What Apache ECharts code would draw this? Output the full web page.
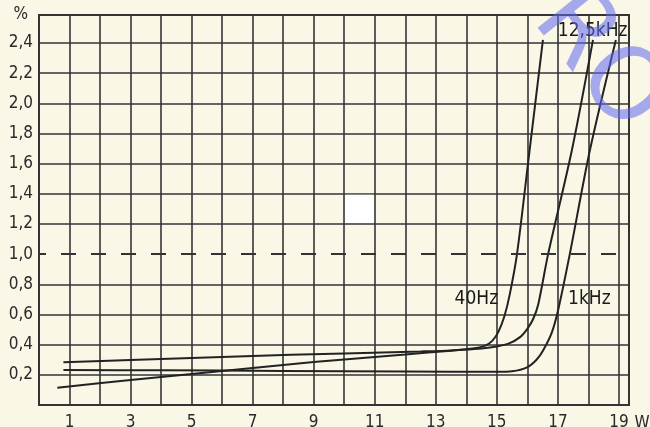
<!DOCTYPE html>
<html><head><meta charset="utf-8">
<script src="https://cdn.jsdelivr.net/npm/echarts@6/dist/echarts.min.js"></script>
<style>html,body{margin:0;padding:0;background:#faf7e6}#c{width:650px;height:427px}</style>
</head><body><div id="c"></div>
<script>
// Power (W) vs distortion (%)
const xLabelValues = [1, 3, 5, 7, 9, 11, 13, 15, 17, 19];
const yLabelValues = [0.2, 0.4, 0.6, 0.8, 1.0, 1.2, 1.4, 1.6, 1.8, 2.0, 2.2, 2.4];
const hz40 = [[0.8,0.283],[3,0.298],[6.5,0.322],[10,0.342],[12.5,0.355],[13.5,0.362],[14.2,0.374],[14.6,0.392],[14.85,0.425],[15.05,0.485],[15.25,0.59],[15.42,0.73],[15.66,1.0],[16.05,1.65],[16.51,2.42]];
const khz125 = [[0.6,0.115],[3,0.165],[6,0.225],[9,0.285],[12,0.335],[13.5,0.36],[14.5,0.375],[15.0,0.388],[15.4,0.408],[15.76,0.45],[16.0,0.505],[16.19,0.57],[16.36,0.67],[16.68,1.0],[17.46,1.69],[18.15,2.42]];
const khz1 = [[0.8,0.232],[4,0.23],[8,0.226],[12,0.222],[15,0.22],[15.5,0.224],[15.99,0.25],[16.3,0.3],[16.51,0.36],[16.8,0.48],[17.02,0.64],[17.39,1.0],[18.05,1.69],[18.9,2.42]];
const refLevel = 1.0;
const labelSpots = {'40Hz':[14.33,0.70], '12,5kHz':[18.14,2.48], '1kHz':[18.03,0.70]};

const chart = echarts.init(document.getElementById('c'), null, {renderer:'canvas'});
const gridColor = '#353535';
const font = "'DejaVu Sans Condensed', 'Liberation Sans Narrow', 'DejaVu Sans'";
const yColors = [];
for (let v = 0; v <= 2.4001; v += 0.2) yColors.push(Math.abs(v - refLevel) < 1e-6 ? 'rgba(0,0,0,0)' : gridColor);

function mkSeries(name, data, withRef) {
  const s = {
    name, type:'line', data, showSymbol:false, smooth:0.3,
    lineStyle:{color:'#222', width:2}, silent:true, z:3,
    markPoint:{symbol:'circle', symbolSize:0, silent:true,
      data:[{coord:labelSpots[name], value:name}],
      label:{show:true, formatter:name, color:'#1a1a1a', fontFamily:font, fontSize:19, position:'inside'}}
  };
  if (withRef) s.markLine = {symbol:'none', silent:true, animation:false, label:{show:false},
      lineStyle:{color:'#333', width:2, type:[15,15], dashOffset:8}, data:[{yAxis:refLevel}]};
  return s;
}

chart.setOption({
  animation:false,
  backgroundColor:'#faf7e6',
  grid:{left:39, top:15, right:21, bottom:22, outerBoundsMode:'none', containLabel:false,
    show:true, borderColor:gridColor, borderWidth:2, backgroundColor:'transparent'},
  xAxis:{type:'value', min:0, max:19.33, interval:1,
    axisLine:{show:false}, axisTick:{show:false},
    splitLine:{show:true, lineStyle:{color:gridColor, width:1.6}},
    axisLabel:{fontFamily:font, fontSize:17, color:'#2a2a2a', margin:9, showMaxLabel:false,
      formatter:v => xLabelValues.includes(v) ? String(v) : ''},
    name:'W', nameLocation:'end', nameGap:3,
    nameTextStyle:{fontFamily:font, fontSize:17, color:'#2a2a2a', verticalAlign:'top', padding:[10,0,0,0]}},
  yAxis:{type:'value', min:0, max:2.585, interval:0.2,
    axisLine:{show:false}, axisTick:{show:false},
    splitLine:{show:true, lineStyle:{color:yColors, width:1.6}},
    axisLabel:{fontFamily:font, fontSize:17, color:'#2a2a2a', margin:6, showMaxLabel:false,
      formatter:v => { const m = yLabelValues.find(t => Math.abs(t - v) < 1e-6); return m === undefined ? '' : m.toFixed(1).replace('.', ','); }},
    name:'%', nameLocation:'end', nameGap:0,
    nameTextStyle:{fontFamily:font, fontSize:17, color:'#2a2a2a', align:'right', verticalAlign:'middle', padding:[4,11,0,0]}},
  series:[mkSeries('40Hz', hz40, true), mkSeries('12,5kHz', khz125, false), mkSeries('1kHz', khz1, false)],
  graphic:[
    {type:'rect', shape:{x:0,y:0,width:28,height:28}, style:{fill:'#ffffff'}, z:10, id:'patch'},
    {type:'text', x:598, y:62, rotation:-0.9, z:20, silent:true,
      style:{text:'RO', font:'100px DejaVu Sans', fill:'rgba(95,105,240,0.55)', textAlign:'center', textVerticalAlign:'middle'}}
  ]
});
// white scan patch placed in grid cell 10..11 W / 1.2..1.4 %
const p1 = chart.convertToPixel({gridIndex:0}, [10, 1.4]);
const p2 = chart.convertToPixel({gridIndex:0}, [11, 1.2]);
chart.setOption({graphic:[{id:'patch', shape:{x:p1[0]+1, y:p1[1]+1, width:p2[0]-p1[0]-2, height:p2[1]-p1[1]-2}}]});
</script></body></html>
